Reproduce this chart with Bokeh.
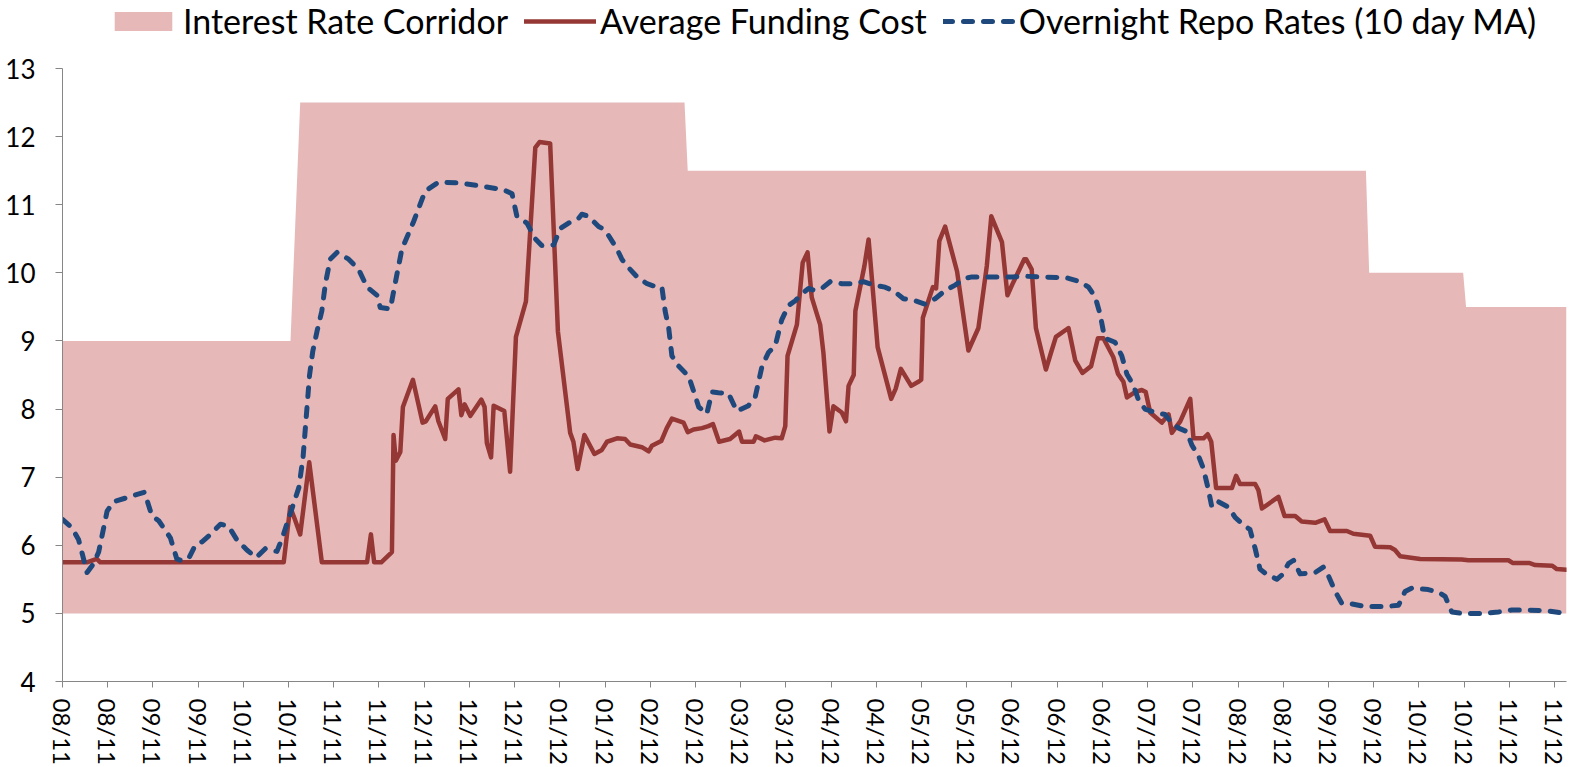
from bokeh.plotting import figure
from bokeh.models import Range1d, FixedTicker, Legend, LegendItem
from bokeh.layouts import column
from bokeh.embed import file_html
from bokeh.resources import INLINE

# ---- data (x = days since 12 Aug 2011) ----
tick_labels = ["08/11", "08/11", "09/11", "09/11", "10/11", "10/11", "11/11", "11/11",
               "12/11", "12/11", "12/11", "01/12", "01/12", "02/12", "02/12", "03/12",
               "03/12", "04/12", "04/12", "05/12", "05/12", "06/12", "06/12", "06/12",
               "07/12", "07/12", "08/12", "08/12", "09/12", "09/12", "10/12", "10/12",
               "11/12", "11/12"]

corridor_x = [0, 70.6, 73.6, 192.6, 193.6, 403.6, 404.6, 433.7, 434.6, 465.7]
corridor_upper = [9, 9, 12.5, 12.5, 11.5, 11.5, 10, 10, 9.5, 9.5]
corridor_lower = [5, 5, 5, 5, 5, 5, 5, 5, 5, 5]

funding_x = [0, 7.6, 10.6, 11.7, 68.5, 70.5, 71.8, 73.6, 76.4, 80.3, 94.3, 95.5, 96.5, 98.7,
             102.0, 102.5, 103.2, 104.6, 105.4, 108.5, 111.5, 112.5, 115.4, 116.4, 118.5,
             119.3, 122.6, 123.5, 124.5, 126.3, 129.7, 130.7, 131.4, 132.7, 133.5, 136.8,
             138.6, 140.4, 143.5, 146.4, 147.7, 151.0, 153.4, 157.2, 158.2, 159.5, 161.6,
             164.7, 167.0, 168.6, 171.7, 174.2, 175.8, 179.4, 181.5, 182.5, 185.4, 187.1,
             188.7, 192.3, 193.6, 195.4, 198.0, 200.0, 201.4, 203.3, 206.7, 209.5, 210.4,
             214.0, 214.7, 217.4, 220.7, 222.7, 223.8, 224.5, 227.4, 229.2, 230.7, 232.0,
             234.6, 235.6, 237.5, 238.7, 241.3, 242.6, 243.4, 245.0, 245.5, 248.3, 249.6,
             252.4, 256.6, 258.0, 259.6, 262.8, 265.0, 265.9, 266.4, 269.5, 270.5, 271.5,
             273.3, 277.0, 280.5, 283.6, 286.2, 287.6, 290.9, 292.6, 294.0, 296.0, 297.8,
             298.4, 300.1, 301.4, 304.5, 306.1, 307.6, 311.5, 313.6, 315.8, 318.5, 320.6,
             322.3, 325.4, 326.8, 328.5, 329.6, 332.1, 334.2, 335.4, 336.8, 340.4, 342.5,
             343.5, 346.1, 349.2, 350.2, 353.3, 354.6, 355.7, 357.2, 362.1, 363.4, 364.6,
             369.3, 370.3, 371.4, 376.5, 378.4, 381.7, 383.7, 387.9, 390.8, 392.5, 397.7,
             399.7, 404.9, 406.4, 411.1, 412.6, 414.2, 420.4, 433.3, 435.3, 447.7, 449.0,
             454.1, 456.0, 461.3, 462.7, 465.7]
funding_y = [5.75, 5.75, 5.8, 5.75, 5.75, 6.56, 6.4, 6.16, 7.22, 5.75, 5.75, 6.16, 5.75, 5.75,
             5.9, 7.62, 7.24, 7.37, 8.03, 8.43, 7.8, 7.82, 8.04, 7.82, 7.56,
             8.15, 8.29, 7.91, 8.07, 7.9, 8.14, 8.03, 7.5, 7.29, 8.05, 7.97,
             7.08, 9.06, 9.58, 11.84, 11.92, 11.9, 9.14, 7.65, 7.52, 7.12, 7.62,
             7.34, 7.4, 7.52, 7.57, 7.56, 7.48, 7.44, 7.38, 7.46, 7.53, 7.72,
             7.86, 7.8, 7.66, 7.7, 7.72, 7.75, 7.78, 7.52, 7.56, 7.67, 7.52,
             7.52, 7.6, 7.54, 7.58, 7.57, 7.75, 8.78, 9.24, 10.15, 10.3, 9.64,
             9.24, 8.83, 7.67, 8.04, 7.95, 7.82, 8.34, 8.5, 9.44, 10.1, 10.49,
             8.91, 8.15, 8.3, 8.59, 8.34, 8.4, 8.43, 9.34, 9.79, 9.77, 10.47,
             10.68, 10.02, 8.86, 9.19, 10.1, 10.83, 10.45, 9.67, 9.82, 10.02, 10.2,
             10.2, 10.05, 9.19, 8.58, 8.83, 9.06, 9.19, 8.71, 8.53, 8.63, 9.04,
             9.04, 8.76, 8.52, 8.4, 8.17, 8.25, 8.28, 8.25, 7.95, 7.8, 7.92,
             7.65, 7.82, 8.15, 7.57, 7.57, 7.63, 7.52, 6.84, 6.84, 7.02, 6.9,
             6.9, 6.81, 6.54, 6.71, 6.43, 6.43, 6.35, 6.33, 6.38, 6.21, 6.21,
             6.17, 6.14, 5.98, 5.97, 5.93, 5.84, 5.8, 5.79, 5.78, 5.78, 5.74,
             5.74, 5.71, 5.7, 5.65, 5.64]

repo_x = [0, 2.9, 5.0, 7.6, 9.6, 11.2, 13.8, 15.8, 20.0, 25.4, 27.7, 29.8, 33.4, 35.4, 36.5,
          39.0, 41.1, 43.2, 45.8, 48.9, 51.4, 54.0, 57.1, 60.0, 62.8, 66.4, 68.0, 70.5,
          73.2, 74.5, 75.5, 76.5, 77.5, 78.8, 80.3, 81.4, 82.9, 85.0, 88.6, 91.7, 94.3,
          97.4, 98.4, 101.5, 103.6, 105.1, 108.7, 112.3, 116.4, 122.6, 128.8, 136.6,
          139.2, 140.7, 143.8, 146.4, 148.4, 152.1, 154.1, 156.7, 159.8, 160.8, 162.9,
          166.0, 168.0, 171.7, 173.2, 174.8, 177.9, 181.0, 183.5, 185.6, 186.6, 187.7,
          188.7, 190.8, 193.9, 196.0, 197.0, 199.5, 201.1, 203.1, 206.2, 208.8, 212.4,
          214.5, 216.6, 218.6, 220.7, 222.7, 224.8, 226.9, 228.9, 231.0, 233.1, 235.1,
          237.7, 241.3, 243.9, 248.0, 251.1, 254.7, 257.8, 260.4, 264.0, 267.1, 270.2,
          273.3, 276.4, 279.5, 281.6, 287.8, 294.0, 298.1, 302.2, 310.5, 311.5, 315.1,
          317.7, 319.8, 321.3, 322.3, 322.8, 325.9, 328.0, 329.6, 331.6, 333.2, 335.2,
          338.3, 341.4, 343.0, 345.6, 348.1, 349.7, 351.7, 353.3, 354.6, 355.9, 357.9,
          361.0, 363.1, 365.7, 367.7, 369.3, 370.8, 372.4, 376.0, 377.5, 379.6, 381.2,
          383.2, 387.9, 390.4, 392.0, 394.1, 396.1, 399.2, 403.3, 409.5, 413.7, 415.7,
          417.8, 422.9, 426.1, 428.1, 430.2, 433.3, 439.5, 444.6, 448.8, 452.9, 459.1,
          465.7]
repo_y = [6.38, 6.26, 6.08, 5.6, 5.73, 5.9, 6.5, 6.64, 6.7, 6.78, 6.43, 6.36, 6.11, 5.8, 5.78,
          5.8, 6.0, 6.05, 6.16, 6.31, 6.28, 6.08, 5.93, 5.82, 5.95, 5.91, 6.1, 6.46,
          6.85, 7.3, 7.9, 8.5, 8.85, 9.14, 9.44, 9.84, 10.2, 10.3, 10.2, 10.05, 9.79,
          9.67, 9.49, 9.47, 9.99, 10.35, 10.75, 11.2, 11.33, 11.32, 11.28, 11.22,
          11.16, 10.83, 10.73, 10.5, 10.4, 10.41, 10.65, 10.73, 10.8, 10.86, 10.83,
          10.68, 10.63, 10.35, 10.2, 10.1, 9.94, 9.84, 9.8, 9.79, 9.44, 9.19,
          8.78, 8.63, 8.48, 8.18, 8.03, 7.93, 8.25, 8.24, 8.23, 7.97, 8.05,
          8.18, 8.63, 8.83, 8.93, 9.31, 9.52, 9.59, 9.69, 9.77, 9.74, 9.77,
          9.87, 9.84, 9.84, 9.87, 9.82, 9.79, 9.72, 9.62, 9.59, 9.54, 9.62,
          9.74, 9.82, 9.92, 9.94, 9.94, 9.94, 9.95, 9.94, 9.93, 9.92, 9.87,
          9.79, 9.64, 9.39, 9.14, 9.04, 8.98, 8.78, 8.51, 8.35, 8.13, 8.0,
          7.95, 7.92, 7.82, 7.72, 7.67, 7.47, 7.32, 7.12, 6.86, 6.56, 6.64,
          6.56, 6.41, 6.3, 6.23, 5.95, 5.65, 5.59, 5.5, 5.56, 5.73, 5.78,
          5.58, 5.6, 5.68, 5.55, 5.32, 5.15, 5.14, 5.1, 5.1, 5.12, 5.32,
          5.37, 5.35, 5.31, 5.25, 5.02, 5.0, 5.0, 5.02, 5.05, 5.05, 5.04,
          5.0]

series_names = ["Interest Rate Corridor", "Average Funding Cost",
                "Overnight Repo Rates (10 day MA)"]

# ---- styling ----
FONT = "Lato"
PINK = "#E6B9B8"
RED = "#953735"
BLUE = "#1F497D"
AXIS_GREY = "#868686"

corr_style = dict(fill_color=PINK, fill_alpha=1.0)
fund_style = dict(line_color=RED, line_width=4.5, line_join="round", line_cap="round")
repo_style = dict(line_color=BLUE, line_width=5, line_dash="9 11",
                  line_cap="round", line_join="round")

# ---- main chart ----
p = figure(frame_width=1504, frame_height=613, output_backend="svg", toolbar_location=None,
           x_range=Range1d(0, 465.7), y_range=Range1d(4, 13),
           min_border_left=62, min_border_right=4, min_border_top=18,
           min_border_bottom=78, background_fill_color="white",
           border_fill_color="white")
p.outline_line_color = None
p.xgrid.visible = False
p.ygrid.visible = False

p.varea(x=corridor_x, y1=corridor_lower, y2=corridor_upper, **corr_style)
p.line(funding_x, funding_y, **fund_style)
p.line(repo_x, repo_y, **repo_style)

tick_pos = [14 * i for i in range(len(tick_labels))]
p.xaxis.ticker = FixedTicker(ticks=tick_pos)
p.xaxis.major_label_overrides = {t: lab for t, lab in zip(tick_pos, tick_labels)}
p.xaxis.major_label_orientation = "vertical"
p.yaxis.ticker = FixedTicker(ticks=list(range(4, 14)))

for ax in (p.xaxis[0], p.yaxis[0]):
    ax.axis_line_color = AXIS_GREY
    ax.axis_line_width = 1
    ax.major_tick_line_color = AXIS_GREY
    ax.major_tick_in = 0
    ax.major_tick_out = 6
    ax.minor_tick_line_color = None
    ax.major_label_text_font = FONT
    ax.major_label_text_color = "black"
p.yaxis.major_label_text_font_size = "26px"
p.xaxis.major_label_text_font_size = "24px"
p.yaxis.major_tick_out = 7
p.yaxis.major_label_standoff = 20
p.xaxis.major_label_standoff = 11

# ---- legend strip (above the chart) ----
lg = figure(width=1570, height=50, output_backend="svg", toolbar_location=None,
            x_range=Range1d(0, 1), y_range=Range1d(0, 1),
            x_axis_type=None, y_axis_type=None,
            min_border_left=0, min_border_right=0, min_border_top=0, min_border_bottom=0,
            background_fill_color="white", border_fill_color="white")
lg.outline_line_color = None
lg.xgrid.visible = False
lg.ygrid.visible = False
# legend-key renderers: placed outside the strip's visible range
l_corr = lg.varea(x=[5, 6], y1=[5, 5], y2=[6, 6], **corr_style)
l_fund = lg.line([5, 6], [5, 6], **fund_style)
l_repo = lg.line([5, 6], [5, 6], **repo_style)

legend = Legend(items=[LegendItem(label=series_names[0], renderers=[l_corr]),
                       LegendItem(label=series_names[1], renderers=[l_fund]),
                       LegendItem(label=series_names[2], renderers=[l_repo])],
                orientation="horizontal", location=(45, 9),
                label_text_font=FONT, label_text_font_size="34px",
                label_text_color="black",
                glyph_width=72, glyph_height=24, spacing=16, label_standoff=4,
                padding=0, margin=0, border_line_alpha=0, background_fill_alpha=0)
lg.add_layout(legend, "center")

layout = column(lg, p, spacing=0)
open("out.html", "w").write(file_html(layout, INLINE))
